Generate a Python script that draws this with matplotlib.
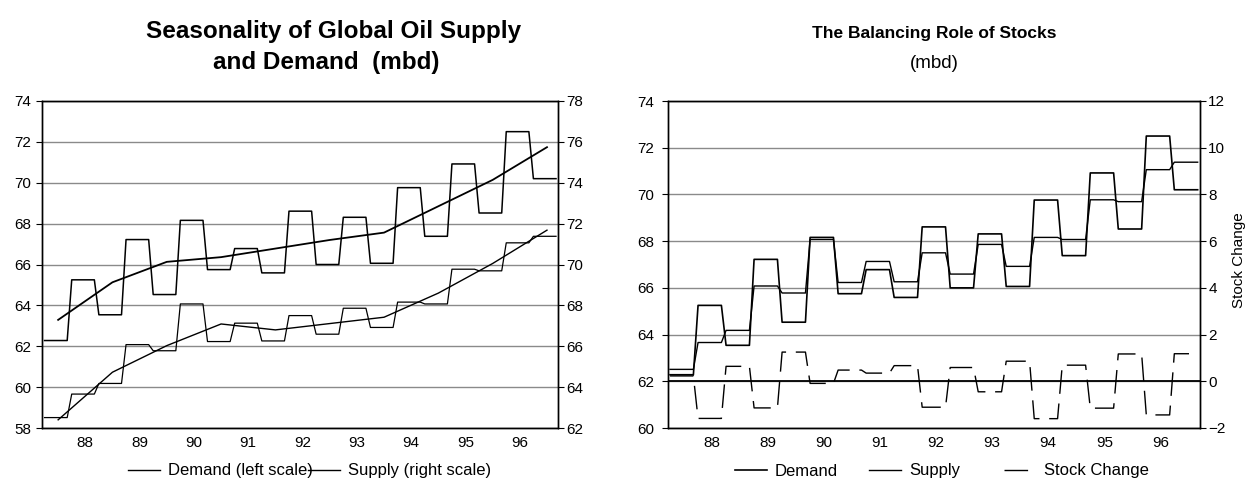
import numpy as np
import matplotlib
matplotlib.use("Agg")
import matplotlib.pyplot as plt
from matplotlib.lines import Line2D

plt.rcParams['font.family'] = ['Liberation Sans', 'DejaVu Sans']

# ---------------- data ----------------
year_labels = ['88', '89', '90', '91', '92', '93', '94', '95', '96']

# half-year (6-month) seasonal values, mbd (Apr-87 .. Sep-96)
demand_half = [62.28, 65.25, 63.54, 67.22, 64.53, 68.16, 65.75, 66.78, 65.59, 68.61,
               66.00, 68.31, 66.06, 69.76, 67.38, 70.92, 68.52, 72.50, 70.20]
supply_half = [62.51, 63.66, 64.18, 66.08, 65.78, 68.07, 66.23, 67.13, 66.26, 67.50,
               66.59, 67.86, 66.92, 68.16, 68.07, 69.77, 69.69, 71.06, 71.38]
stock_half = [0.23, -1.59, 0.64, -1.14, 1.25, -0.09, 0.48, 0.35, 0.67, -1.11,
              0.59, -0.45, 0.86, -1.60, 0.69, -1.15, 1.17, -1.44, 1.18]

# annual averages (plotted at mid-year), 1987..1996
demand_annual = [63.29, 65.13, 66.13, 66.36, 66.78, 67.20, 67.56, 68.85, 70.14, 71.74]
supply_annual = [62.40, 64.73, 66.03, 67.09, 66.80, 67.11, 67.42, 68.60, 70.05, 71.68]

left_legend = ['Demand (left scale)', 'Supply (right scale)']
right_legend = ['Demand', 'Supply', 'Stock Change']

# ---------------- derived monthly layout ----------------
MPP = 6  # months per seasonal period
n_months = len(demand_half) * MPP
months = np.arange(n_months)
demand_m = np.repeat(demand_half, MPP)
supply_m = np.repeat(supply_half, MPP)
stock_m = np.repeat(stock_half, MPP)
annual_x = 3 + 12 * np.arange(len(demand_annual))
label_x = 9 + 12 * np.arange(len(year_labels))

W, H = 1248, 497
fig = plt.figure(figsize=(W / 100, H / 100), dpi=100)

GRID = '#8a8a8a'
TICK_FS = 11
DASH = (17, 7)


def style(ax, axr):
    for a in (ax, axr):
        for s in a.spines.values():
            s.set_color('black')
            s.set_linewidth(1.0)
    ax.set_xlim(-0.5, n_months - 0.5)
    ax.set_xticks(label_x, year_labels)
    ax.tick_params(axis='x', length=0, pad=6, labelsize=TICK_FS)
    ax.tick_params(axis='y', direction='out', length=4, width=0.8, pad=4, labelsize=TICK_FS)
    axr.tick_params(axis='y', direction='out', length=4, width=0.8, pad=2, labelsize=TICK_FS)
    ax.yaxis.grid(True, color=GRID, linewidth=1.0)
    ax.set_axisbelow(True)


def legend_entry(handle, label, x_px, y_px=471):
    fig.legend([handle], [label], loc='center left',
               bbox_to_anchor=(x_px / W, 1 - y_px / H), frameon=False,
               fontsize=12, handlelength=1.9, handletextpad=0.5,
               borderpad=0, borderaxespad=0)


# ---------------- left chart ----------------
ax1 = fig.add_axes([42.3 / W, 1 - 428 / H, 516 / W, 327 / H])
ax1r = ax1.twinx()
ax1.set_ylim(58, 74)
ax1.set_yticks(np.arange(58, 75, 2))
ax1r.set_ylim(62, 78)
ax1r.set_yticks(np.arange(62, 79, 2))
style(ax1, ax1r)

ax1.plot(months, demand_m, color='black', lw=1.1)
ax1.plot(annual_x, demand_annual, color='black', lw=1.3)
ax1r.plot(months, supply_m, color='black', lw=0.9)
ax1r.plot(annual_x, supply_annual, color='black', lw=1.0)

fig.text(334 / W, 1 - 38 / H, 'Seasonality of Global Oil Supply', ha='center',
         va='baseline', fontsize=17.5, fontweight='bold')
fig.text(326 / W, 1 - 69 / H, 'and Demand  (mbd)', ha='center',
         va='baseline', fontsize=17.5, fontweight='bold')

legend_entry(Line2D([], [], color='black', lw=1.0), left_legend[0], 128)
legend_entry(Line2D([], [], color='black', lw=1.0), left_legend[1], 308)

# ---------------- right chart ----------------
ax2 = fig.add_axes([667.7 / W, 1 - 428 / H, 532.3 / W, 327 / H])
ax2r = ax2.twinx()
ax2.set_ylim(60, 74)
ax2.set_yticks(np.arange(60, 75, 2))
ax2r.set_ylim(-2, 12)
ax2r.set_yticks(np.arange(-2, 13, 2))
style(ax2, ax2r)
ax2.tick_params(axis='y', pad=6)

ax2.plot(months, demand_m, color='black', lw=1.2)
ax2.plot(months, supply_m, color='black', lw=1.0)
ax2r.axhline(0, color='black', lw=1.3)
ax2r.plot(months, stock_m, color='black', lw=1.0, dashes=DASH)
fig.text(1239 / W, 1 - 260 / H, 'Stock Change', rotation=90, ha='center',
         va='center', fontsize=11)

fig.text(934 / W, 1 - 38 / H, 'The Balancing Role of Stocks', ha='center',
         va='baseline', fontsize=12.5, fontweight='bold')
fig.text(934 / W, 1 - 68 / H, '(mbd)', ha='center', va='baseline', fontsize=13.5)

legend_entry(Line2D([], [], color='black', lw=1.2), right_legend[0], 735)
legend_entry(Line2D([], [], color='black', lw=1.0), right_legend[1], 869)
legend_entry(Line2D([], [], color='black', lw=1.0, dashes=DASH), right_legend[2], 1004)

fig.savefig('out.png', dpi=100)
